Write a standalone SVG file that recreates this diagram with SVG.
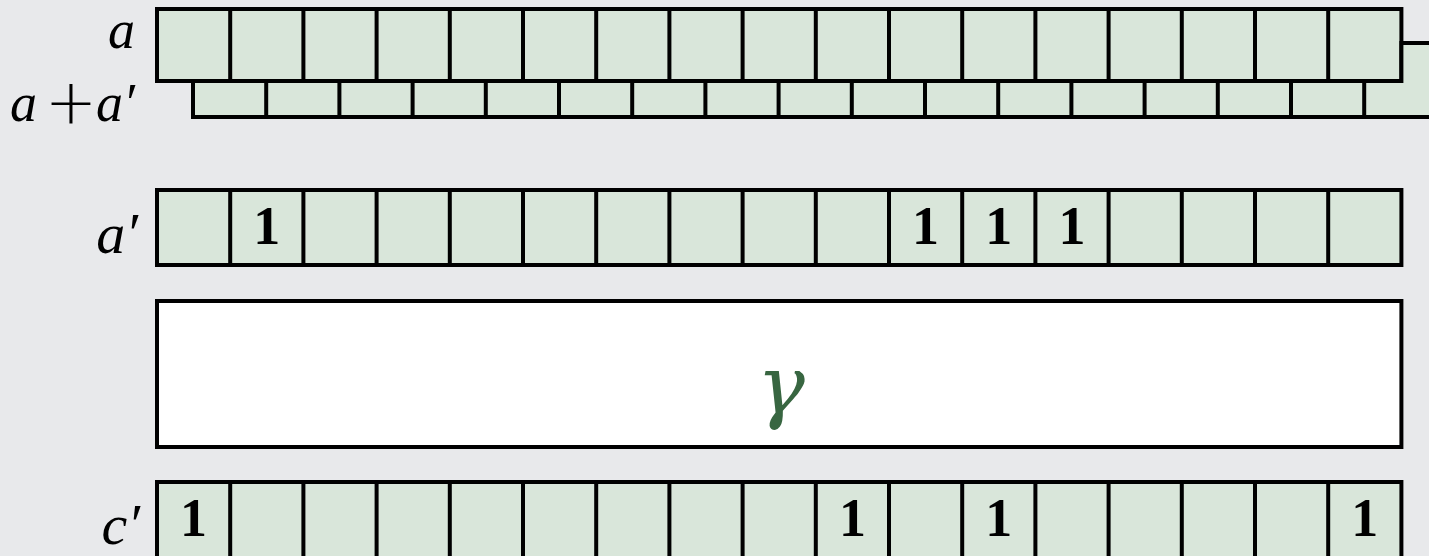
<svg xmlns="http://www.w3.org/2000/svg" width="1429" height="556" viewBox="0 0 1429 556">
<style>
.c{fill:#d9e6da;stroke:#000;stroke-width:4}
.d{stroke:#000;stroke-width:4;fill:none}
.lab{font-family:"Liberation Serif","DejaVu Serif",serif;font-style:italic;fill:#000}
.one{font-family:"Liberation Serif","DejaVu Serif",serif;font-weight:bold;font-size:54px;fill:#000;text-anchor:middle}
</style>
<rect width="1429" height="556" fill="#e8e9eb"/>
<g id="labels">
<text class="lab" font-size="54" x="135" y="48" text-anchor="end">a</text>
<text class="lab" font-size="54" y="121"><tspan x="10">a</tspan><tspan x="45" font-style="normal" font-family="'DejaVu Sans',sans-serif" font-weight="200" font-size="62" dy="2">+</tspan><tspan x="96" dy="-2">a′</tspan></text>
<text class="lab" font-size="58" x="138" y="253" text-anchor="end">a′</text>
<text class="lab" font-size="58" x="140" y="544" text-anchor="end">c′</text>
</g>
<g id="row-a">
<rect class="c" x="157" y="9" width="1244.4" height="72"/>
<path class="d" d="M230.2 9V81M303.4 9V81M376.6 9V81M449.8 9V81M523 9V81M596.2 9V81M669.4 9V81M742.6 9V81M815.8 9V81M889 9V81M962.2 9V81M1035.4 9V81M1108.6 9V81M1181.8 9V81M1255 9V81M1328.2 9V81"/>
</g>
<g id="row-sum">
<path class="c" d="M193 81V117H1432V43H1401.4V81Z"/>
<path class="d" d="M266.2 81V117M339.4 81V117M412.6 81V117M485.8 81V117M559 81V117M632.2 81V117M705.4 81V117M778.6 81V117M851.8 81V117M925 81V117M998.2 81V117M1071.4 81V117M1144.6 81V117M1217.8 81V117M1291 81V117M1364.2 81V117"/>
</g>
<g id="row-aprime">
<rect class="c" x="157" y="190" width="1244.4" height="75"/>
<path class="d" d="M230.2 190V265M303.4 190V265M376.6 190V265M449.8 190V265M523 190V265M596.2 190V265M669.4 190V265M742.6 190V265M815.8 190V265M889 190V265M962.2 190V265M1035.4 190V265M1108.6 190V265M1181.8 190V265M1255 190V265M1328.2 190V265"/>
<text class="one" x="266.8" y="244">1</text>
<text class="one" x="925.6" y="244">1</text>
<text class="one" x="998.8" y="244">1</text>
<text class="one" x="1072" y="244">1</text>
</g>
<g id="gamma">
<rect x="157" y="301" width="1244.4" height="146" fill="#fff" stroke="#000" stroke-width="4"/>
<text x="781" y="413" font-family="'DejaVu Serif',serif" font-style="italic" font-size="80" fill="#386641" text-anchor="middle">γ</text>
</g>
<g id="row-cprime">
<rect class="c" x="157" y="482" width="1244.4" height="78"/>
<path class="d" d="M230.2 482V560M303.4 482V560M376.6 482V560M449.8 482V560M523 482V560M596.2 482V560M669.4 482V560M742.6 482V560M815.8 482V560M889 482V560M962.2 482V560M1035.4 482V560M1108.6 482V560M1181.8 482V560M1255 482V560M1328.2 482V560"/>
<text class="one" x="193.6" y="536">1</text>
<text class="one" x="852.4" y="536">1</text>
<text class="one" x="998.8" y="536">1</text>
<text class="one" x="1364.8" y="536">1</text>
</g>
<g id="connectors"/>
</svg>
